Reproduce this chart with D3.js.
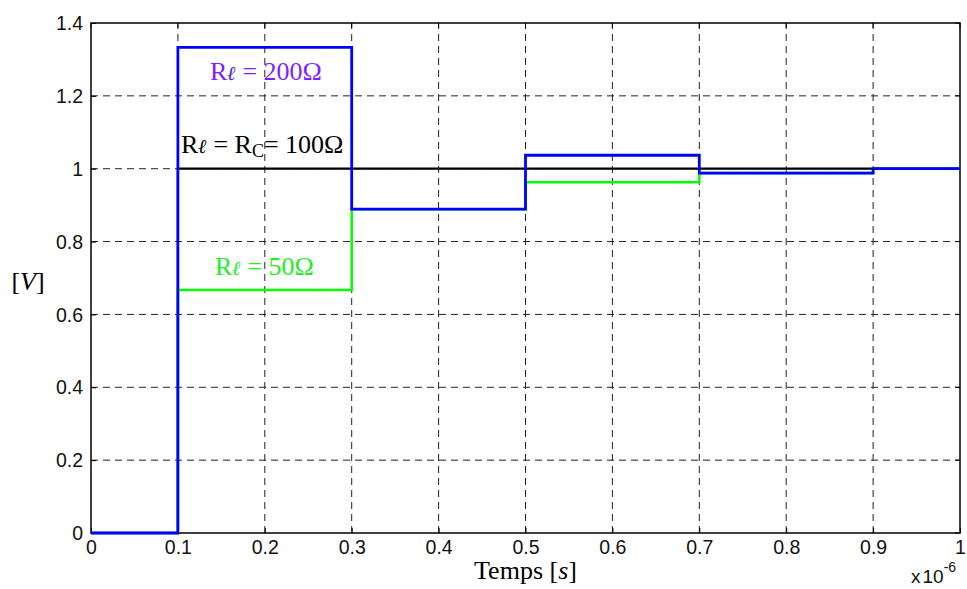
<!DOCTYPE html>
<html><head><meta charset="utf-8">
<script src="https://cdn.jsdelivr.net/npm/d3@7"></script>
<style>body{margin:0;background:#fff}svg{display:block}</style>
</head><body>
<script>
// Data (time in units of 1e-6 s)
const times = [0, 0.1, 0.3, 0.5, 0.7, 0.9, 1.0];
const v100 = [0, 1.0, 1.0, 1.0, 1.0, 1.0];
const v50  = [0, 0.667, 0.889, 0.963, 0.988, 1.0];
const v200 = [0, 1.333, 0.889, 1.037, 0.988, 1.0];
const xTicks = [0, 0.1, 0.2, 0.3, 0.4, 0.5, 0.6, 0.7, 0.8, 0.9, 1];
const yTicks = [0, 0.2, 0.4, 0.6, 0.8, 1, 1.2, 1.4];

const W = 967, H = 589;
const m = {left: 91, right: 7, top: 23, bottom: 56};
const svg = d3.select("body").append("svg").attr("width", W).attr("height", H);
const x = d3.scaleLinear().domain([0, 1]).range([m.left, W - m.right]);
const y = d3.scaleLinear().domain([0, 1.4]).range([H - m.bottom, m.top]);

// grid
const g = svg.append("g");
g.selectAll(".vg").data(xTicks.slice(1, -1)).join("line")
  .attr("x1", d => x(d)).attr("x2", d => x(d)).attr("y1", y(0)).attr("y2", y(1.4))
  .attr("stroke", "#222").attr("stroke-width", 1).attr("stroke-dasharray", "7,5");
g.selectAll(".hg").data(yTicks.slice(1, -1)).join("line")
  .attr("y1", d => y(d)).attr("y2", d => y(d)).attr("x1", x(0)).attr("x2", x(1))
  .attr("stroke", "#222").attr("stroke-width", 1).attr("stroke-dasharray", "7,5");

// axes
const font = "'Liberation Sans', Arial, sans-serif";
const xa = svg.append("g").attr("transform", `translate(0,${y(0)})`)
  .call(d3.axisBottom(x).tickValues(xTicks).tickSize(-5).tickPadding(7).tickFormat(d => d3.format("")(d)));
const ya = svg.append("g").attr("transform", `translate(${x(0)},0)`)
  .call(d3.axisLeft(y).tickValues(yTicks).tickSize(-5).tickPadding(8).tickFormat(d => d3.format("")(d)));
[xa, ya].forEach(a => {
  a.select(".domain").remove();
  a.selectAll("line").attr("stroke", "#000");
  a.selectAll("text").attr("font-family", font).attr("font-size", 19.5).attr("fill", "#111");
});
ya.selectAll("text").attr("dy", "0.34em");
// top & right ticks
svg.append("g").selectAll("line").data(xTicks).join("line")
  .attr("x1", d => x(d)).attr("x2", d => x(d)).attr("y1", y(1.4)).attr("y2", y(1.4) + 5).attr("stroke", "#000");
svg.append("g").selectAll("line").data(yTicks).join("line")
  .attr("y1", d => y(d)).attr("y2", d => y(d)).attr("x1", x(1)).attr("x2", x(1) - 5).attr("stroke", "#000");
// box
svg.append("rect").attr("x", x(0)).attr("y", y(1.4)).attr("width", x(1) - x(0)).attr("height", y(0) - y(1.4))
  .attr("fill", "none").attr("stroke", "#000").attr("stroke-width", 1.5);

// lines
const line = d3.line().x(d => x(d[0])).y(d => y(d[1])).curve(d3.curveStepAfter);
function series(vals) { const pts = vals.map((v, i) => [times[i], v]); pts.push([times[times.length - 1], vals[vals.length - 1]]); return pts; }
svg.append("path").datum(series(v100)).attr("d", line).attr("fill", "none").attr("stroke", "#000").attr("stroke-width", 2.2);
svg.append("path").datum(series(v50)).attr("d", line).attr("fill", "none").attr("stroke", "#00ff00").attr("stroke-width", 2.5);
svg.append("path").datum(series(v200)).attr("d", line).attr("fill", "none").attr("stroke", "#0000ff").attr("stroke-width", 2.8);

// annotations
const serif = "'Liberation Serif', 'Times New Roman', serif";
function rlabel(xp, yp, color, lcolor, parts) {
  const t = svg.append("text").attr("x", xp).attr("y", yp).attr("font-family", serif).attr("font-size", 26).attr("fill", color);
  parts.forEach(p => {
    const s = t.append("tspan").text(p.t);
    if (p.it) s.attr("font-style", "italic").attr("font-weight", "bold").attr("font-size", 20).attr("fill", lcolor);
    if (p.sub) s.attr("font-size", 18).attr("dy", 4);
    if (p.up) s.attr("dy", -4);
  });
  return t;
}
rlabel(210, 80, "#7f1fff", "#4422ee", [{t: "R"}, {t: "ℓ", it: true}, {t: " = 200Ω"}]);
rlabel(181, 153, "#000", "#000", [{t: "R"}, {t: "ℓ", it: true}, {t: " = R"}, {t: "C", sub: true}, {t: "= 100Ω", up: true}]);
rlabel(215, 275, "#22ee22", "#22ee22", [{t: "R"}, {t: "ℓ", it: true}, {t: " = 50Ω"}]);

// axis labels
const xl = svg.append("text").attr("x", (x(0) + x(1)) / 2).attr("y", 579).attr("text-anchor", "middle")
  .attr("font-family", serif).attr("font-size", 26).attr("fill", "#000");
xl.append("tspan").text("Temps [");
xl.append("tspan").attr("font-style", "italic").text("s");
xl.append("tspan").text("]");
const yl = svg.append("text").attr("x", 28).attr("y", 290).attr("text-anchor", "middle")
  .attr("font-family", serif).attr("font-size", 26).attr("fill", "#000");
yl.append("tspan").text("[");
yl.append("tspan").attr("font-style", "italic").text("V");
yl.append("tspan").text("]");

// exponent
const ex = svg.append("text").attr("x", 911).attr("y", 583).attr("font-family", font).attr("font-size", 19).attr("fill", "#111");
ex.append("tspan").text("x");
ex.append("tspan").attr("dx", 2).text("10");
ex.append("tspan").attr("font-size", 14).attr("dy", -11).text("-6");
</script>
</body></html>
